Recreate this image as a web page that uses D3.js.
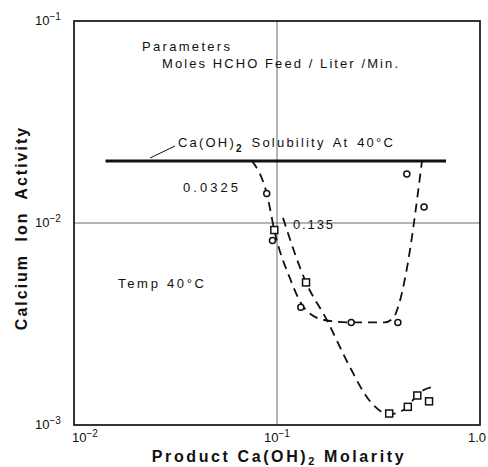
<!DOCTYPE html>
<html lang="en">
<head>
  <meta charset="UTF-8">
  <title>Calcium Ion Activity vs Product Ca(OH)2 Molarity</title>
  <style>
    body {
      margin: 0;
      background-color: white;
      overflow: hidden;
    }

    text {
      font-family: "Liberation Sans", Arial, sans-serif;
      fill: #111;
    }

    .frame {
      fill: none;
      stroke: #111;
      stroke-width: 1.7px;
    }

    .grid {
      stroke: #444;
      stroke-width: 0.8px;
    }

    .curve {
      fill: none;
      stroke: #111;
      stroke-width: 1.8px;
      stroke-dasharray: 9 6;
    }

    .marker {
      fill: white;
      stroke: #111;
      stroke-width: 1.5px;
    }

    .note {
      font-size: 13px;
    }

    .axis-title {
      font-size: 16px;
      font-weight: bold;
    }
  </style>
</head>
<body>
  <script src="https://d3js.org/d3.v7.min.js"></script>
  <script>
    const width = 488;
    const height = 467;

    // measured points, 0.0325 moles HCHO feed (circles)
    const circleX = [0.089, 0.095, 0.131, 0.232, 0.394, 0.436, 0.530];
    const circleY = [0.0140, 0.0082, 0.00383, 0.00322, 0.00322, 0.0175, 0.0120];

    // measured points, 0.135 moles HCHO feed (squares)
    const squareX = [0.097, 0.139, 0.357, 0.441, 0.491, 0.561];
    const squareY = [0.00923, 0.00508, 0.00114, 0.00123, 0.00140, 0.00131];

    // hand drawn dashed curves through the points
    const curveLowX = [0.0753, 0.089, 0.098, 0.116, 0.136, 0.171, 0.232, 0.34, 0.375, 0.40, 0.43, 0.518];
    const curveLowY = [0.0203, 0.0140, 0.0088, 0.0053, 0.0038, 0.00331, 0.00322, 0.00322, 0.0034, 0.0040, 0.0055, 0.0203];
    const curveHighX = [0.107, 0.139, 0.176, 0.226, 0.284, 0.357, 0.441, 0.491, 0.60];
    const curveHighY = [0.0106, 0.00508, 0.00331, 0.00198, 0.00133, 0.00113, 0.00123, 0.00142, 0.00155];

    // Ca(OH)2 solubility at 40 C
    const solubility = 0.0203;
    const solubilityFrom = 0.0143;
    const solubilityTo = 0.68;

    const xTicks = [0.01, 0.1, 1];
    const xTickLabels = [["10", "-2"], ["10", "-1"], ["1.0", ""]];
    const yTicks = [0.001, 0.01, 0.1];
    const yTickLabels = [["10", "-3"], ["10", "-2"], ["10", "-1"]];

    const svg = d3.select("body").append("svg")
      .attr("width", width)
      .attr("height", height);

    const x = d3.scaleLog()
      .domain([0.01, 1])
      .range([74, 480]);

    const y = d3.scaleLog()
      .domain([0.001, 0.1])
      .range([425, 21]);

    // grid lines at the middle decade
    svg.append("line")
      .attr("class", "grid")
      .attr("x1", x(0.1)).attr("x2", x(0.1))
      .attr("y1", y(0.1)).attr("y2", y(0.001));

    svg.append("line")
      .attr("class", "grid")
      .attr("x1", x(0.01)).attr("x2", x(1))
      .attr("y1", y(0.01)).attr("y2", y(0.01));

    svg.append("rect")
      .attr("class", "frame")
      .attr("x", x(0.01))
      .attr("y", y(0.1))
      .attr("width", x(1) - x(0.01))
      .attr("height", y(0.001) - y(0.1));

    // tick labels
    xTicks.forEach(function(t, i) {
      const label = svg.append("text")
        .attr("x", x(t))
        .attr("y", 442)
        .attr("text-anchor", i === 0 ? "start" : "middle")
        .attr("dx", i === 0 ? -2 : (i === 2 ? -3 : 0))
        .style("font-size", "13px");
      label.append("tspan").text(xTickLabels[i][0]);
      if (xTickLabels[i][1]) {
        label.append("tspan")
          .attr("dy", -5)
          .style("font-size", "10px")
          .text(xTickLabels[i][1].replace("-", "\u2212"));
      }
    });

    yTicks.forEach(function(t, i) {
      const label = svg.append("text")
        .attr("x", 35)
        .attr("y", y(t) + 4)
        .style("font-size", "13px");
      label.append("tspan").text(yTickLabels[i][0]);
      label.append("tspan")
        .attr("dy", -5)
        .style("font-size", "10px")
        .text(yTickLabels[i][1].replace("-", "\u2212"));
    });

    // solubility line
    svg.append("line")
      .attr("x1", x(solubilityFrom)).attr("x2", x(solubilityTo))
      .attr("y1", y(solubility)).attr("y2", y(solubility))
      .attr("stroke", "#111")
      .attr("stroke-width", 3);

    svg.append("line")
      .attr("x1", 150).attr("y1", 158)
      .attr("x2", 175).attr("y2", 146)
      .attr("stroke", "#111")
      .attr("stroke-width", 1);

    const solLabel = svg.append("text")
      .attr("class", "note")
      .attr("x", 178)
      .attr("y", 147)
      .style("letter-spacing", "2.2px")
      .style("word-spacing", "2px");
    solLabel.append("tspan").text("Ca(OH)");
    solLabel.append("tspan").attr("dy", 5).style("font-size", "10px").style("font-weight", "bold").text("2");
    solLabel.append("tspan").attr("dy", -5).text(" Solubility At 40°C");

    // dashed curves
    const line = d3.line()
      .x(d => x(d[0]))
      .y(d => y(d[1]))
      .curve(d3.curveMonotoneX);

    svg.append("path")
      .datum(d3.zip(curveLowX, curveLowY))
      .attr("class", "curve")
      .attr("d", line);

    svg.append("path")
      .datum(d3.zip(curveHighX, curveHighY))
      .attr("class", "curve")
      .attr("d", line);

    // markers
    svg.append("g")
      .selectAll("circle")
      .data(d3.zip(circleX, circleY))
      .enter()
      .append("circle")
      .attr("class", "marker")
      .attr("cx", d => x(d[0]))
      .attr("cy", d => y(d[1]))
      .attr("r", 3);

    svg.append("g")
      .selectAll("rect")
      .data(d3.zip(squareX, squareY))
      .enter()
      .append("rect")
      .attr("class", "marker")
      .attr("x", d => x(d[0]) - 3.5)
      .attr("y", d => y(d[1]) - 3.5)
      .attr("width", 7)
      .attr("height", 7);

    // annotations, widths as measured on the figure
    svg.append("text").attr("class", "note")
      .attr("x", 142).attr("y", 51)
      .attr("textLength", 88)
      .attr("lengthAdjust", "spacing")
      .text("Parameters");

    svg.append("text").attr("class", "note")
      .attr("x", 162).attr("y", 68)
      .attr("textLength", 236)
      .attr("lengthAdjust", "spacing")
      .text("Moles  HCHO Feed / Liter  /Min.");

    svg.append("text").attr("class", "note")
      .attr("x", 183).attr("y", 192)
      .attr("textLength", 55)
      .attr("lengthAdjust", "spacing")
      .text("0.0325");

    svg.append("text").attr("class", "note")
      .attr("x", 293).attr("y", 229)
      .attr("textLength", 40)
      .attr("lengthAdjust", "spacing")
      .text("0.135");

    svg.append("text").attr("class", "note")
      .attr("x", 118).attr("y", 288)
      .attr("textLength", 86)
      .attr("lengthAdjust", "spacing")
      .text("Temp  40°C");

    // axis titles
    const xTitle = svg.append("text")
      .attr("class", "axis-title")
      .attr("x", 279)
      .attr("y", 462)
      .attr("text-anchor", "middle")
      .style("letter-spacing", "2.6px");
    xTitle.append("tspan").text("Product  Ca(OH)");
    xTitle.append("tspan").attr("dy", 3).style("font-size", "11px").text("2");
    xTitle.append("tspan").attr("dy", -3).text(" Molarity");

    svg.append("text")
      .attr("class", "axis-title")
      .attr("transform", "translate(27,228) rotate(-90)")
      .attr("text-anchor", "middle")
      .style("letter-spacing", "2px")
      .style("word-spacing", "6px")
      .text("Calcium Ion Activity");
  </script>
</body>
</html>
